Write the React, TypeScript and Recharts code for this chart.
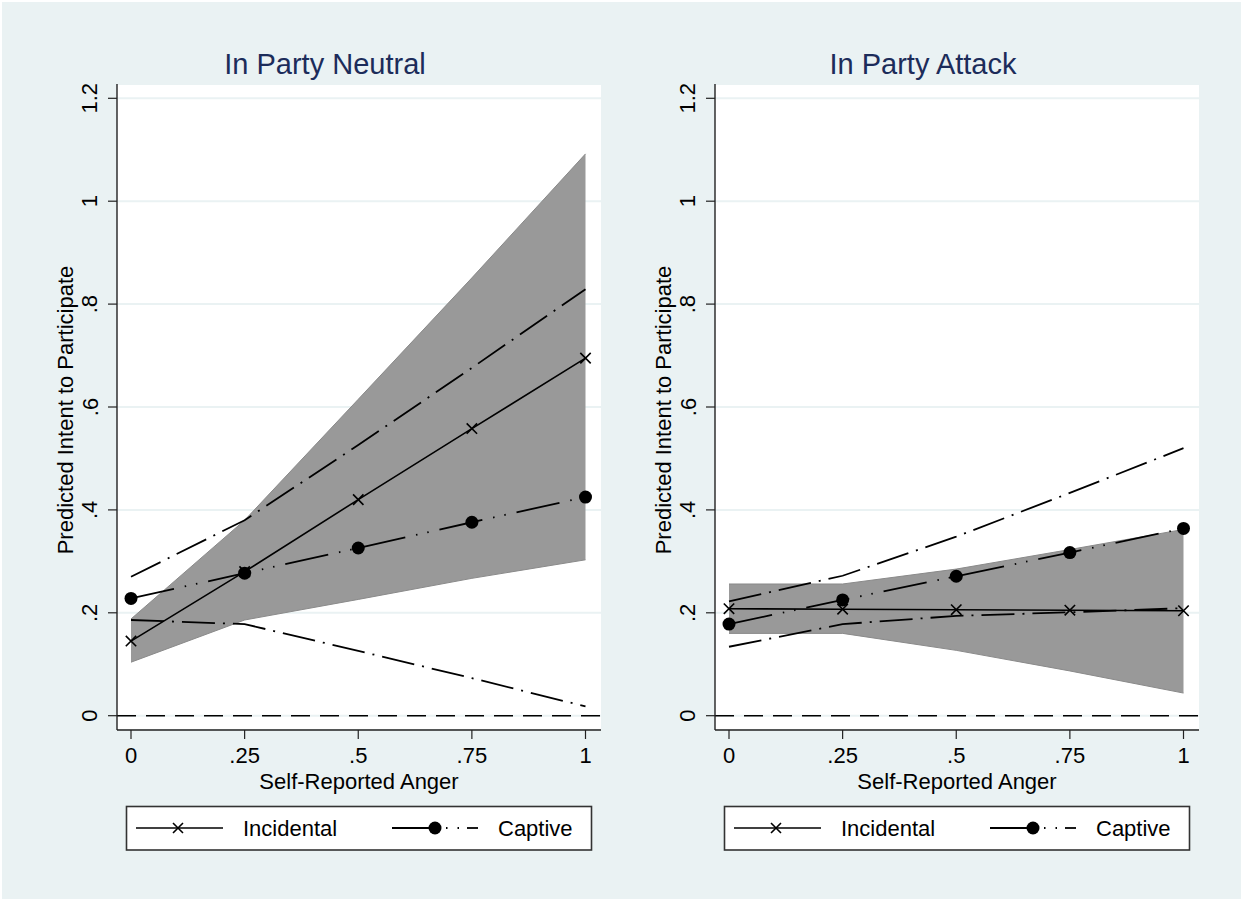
import {
  Area,
  CartesianGrid,
  ComposedChart,
  Line,
  ReferenceLine,
  XAxis,
  YAxis,
} from "recharts";

const anger = [0, 0.25, 0.5, 0.75, 1];
const yTicks = [0, 0.2, 0.4, 0.6, 0.8, 1, 1.2];

// In Party Neutral
const incNeutral = [0.145, 0.28, 0.42, 0.558, 0.695];
const incNeutralLo = [0.104, 0.186, 0.226, 0.267, 0.303];
const incNeutralHi = [0.188, 0.38, 0.615, 0.851, 1.092];
const capNeutral = [0.228, 0.277, 0.326, 0.376, 0.425];
const capNeutralLo = [0.186, 0.178, 0.126, 0.073, 0.018];
const capNeutralHi = [0.27, 0.38, 0.526, 0.676, 0.829];

// In Party Attack
const incAttack = [0.208, 0.207, 0.206, 0.205, 0.204];
const incAttackLo = [0.16, 0.16, 0.127, 0.087, 0.044];
const incAttackHi = [0.256, 0.256, 0.285, 0.323, 0.362];
const capAttack = [0.178, 0.225, 0.271, 0.317, 0.364];
const capAttackLo = [0.134, 0.178, 0.194, 0.201, 0.209];
const capAttackHi = [0.222, 0.272, 0.348, 0.433, 0.52];

const FONT = "'Liberation Sans', Arial, Helvetica, sans-serif";
const BG = "#EAF2F3";
const NAVY = "#1c2c5a";

const buildRows = (
  inc: number[],
  incLo: number[],
  incHi: number[],
  cap: number[],
  capLo: number[],
  capHi: number[]
) =>
  anger.map((a, i) => ({
    a,
    inc: inc[i],
    band: [incLo[i], incHi[i]],
    cap: cap[i],
    capLo: capLo[i],
    capHi: capHi[i],
  }));

const neutralRows = buildRows(incNeutral, incNeutralLo, incNeutralHi, capNeutral, capNeutralLo, capNeutralHi);
const attackRows = buildRows(incAttack, incAttackLo, incAttackHi, capAttack, capAttackLo, capAttackHi);

const fmt = (v: number) => {
  const s = String(Math.round(v * 100) / 100);
  return s.startsWith("0.") ? s.slice(1) : s;
};

const XMark = (p: any) => {
  const { cx, cy } = p;
  if (cx == null || cy == null) return null;
  const r = 5.2;
  return (
    <path
      key={`x-${cx}`}
      d={`M${cx - r},${cy - r}L${cx + r},${cy + r}M${cx - r},${cy + r}L${cx + r},${cy - r}`}
      stroke="#000"
      strokeWidth={1.6}
      fill="none"
    />
  );
};

const DotMark = (p: any) => {
  const { cx, cy } = p;
  if (cx == null || cy == null) return null;
  return <circle key={`o-${cx}`} cx={cx} cy={cy} r={6.5} fill="#000" />;
};

const XTick = (p: any) => (
  <text x={p.x} y={762.5} textAnchor="middle" fontFamily={FONT} fontSize={22} fill="#000">
    {fmt(p.payload.value)}
  </text>
);

const YTick = (p: any) => (
  <text
    x={97.5}
    y={p.y}
    textAnchor="middle"
    fontFamily={FONT}
    fontSize={22}
    fill="#000"
    transform={`rotate(-90, 97.5, ${p.y})`}
  >
    {fmt(p.payload.value)}
  </text>
);

const CI_DASH = "33 8 2 8";
const CAP_DASH = "44 11 1.5 10 1.5 11";

function Panel({ dx, rows }: { dx: number; rows: any[] }) {
  return (
    <div style={{ position: "absolute", left: dx, top: 0 }}>
      <ComposedChart
        width={620}
        height={899}
        data={rows}
        margin={{ top: 84, right: 19, left: 57, bottom: 109 }}
      >
        <CartesianGrid vertical={false} stroke={BG} strokeWidth={2} fill="#fff" />
        <XAxis
          type="number"
          dataKey="a"
          domain={[0, 1]}
          ticks={anger}
          interval={0}
          padding={{ left: 14, right: 15.5 }}
          height={60}
          tickSize={9}
          axisLine={{ stroke: "#222", strokeWidth: 1.4 }}
          tickLine={{ stroke: "#222", strokeWidth: 1.2 }}
          tick={XTick}
        />
        <YAxis
          type="number"
          domain={[0, 1.2]}
          ticks={yTicks}
          interval={0}
          padding={{ top: 14.3, bottom: 14.3 }}
          width={60}
          tickSize={9}
          axisLine={{ stroke: "#222", strokeWidth: 1.4 }}
          tickLine={{ stroke: "#222", strokeWidth: 1.2 }}
          tick={YTick}
        />
        <Area
          dataKey="band"
          type="linear"
          fill="#999999"
          fillOpacity={1}
          stroke="#8a8a8a"
          strokeWidth={1}
          isAnimationActive={false}
        />
        <ReferenceLine y={0} stroke="#000" strokeWidth={1.6} strokeDasharray="19 10" />
        <Line dataKey="capHi" type="linear" stroke="#000" strokeWidth={1.8} strokeDasharray={CI_DASH} dot={false} isAnimationActive={false} />
        <Line dataKey="capLo" type="linear" stroke="#000" strokeWidth={1.8} strokeDasharray={CI_DASH} dot={false} isAnimationActive={false} />
        <Line dataKey="inc" type="linear" stroke="#000" strokeWidth={1.6} dot={XMark} isAnimationActive={false} />
        <Line dataKey="cap" type="linear" stroke="#000" strokeWidth={1.8} strokeDasharray={CAP_DASH} dot={DotMark} isAnimationActive={false} />
      </ComposedChart>
    </div>
  );
}

function Decor({ dx, title }: { dx: number; title: string }) {
  const ly = 828;
  return (
    <g transform={`translate(${dx},0)`} fontFamily={FONT}>
      <text x={325} y={74} textAnchor="middle" fontSize={29} fill={NAVY}>
        {title}
      </text>
      <text
        x={73}
        y={410}
        textAnchor="middle"
        fontSize={22}
        fill="#000"
        transform="rotate(-90, 73, 410)"
      >
        Predicted Intent to Participate
      </text>
      <text x={359} y={789} textAnchor="middle" fontSize={22} fill="#000">
        Self-Reported Anger
      </text>
      <rect x={126.5} y={806.5} width={465} height={43.5} fill="#fff" stroke="#333" strokeWidth={1.6} />
      <line x1={136} y1={ly} x2={223} y2={ly} stroke="#000" strokeWidth={1.6} />
      <path d={`M173,${ly - 5}L183,${ly + 5}M173,${ly + 5}L183,${ly - 5}`} stroke="#000" strokeWidth={1.6} />
      <text x={243} y={ly + 8} fontSize={22} fill="#000">
        Incidental
      </text>
      <line x1={392} y1={ly} x2={435} y2={ly} stroke="#000" strokeWidth={1.8} />
      <circle cx={435} cy={ly} r={6.5} fill="#000" />
      <line x1={446} y1={ly} x2={447.5} y2={ly} stroke="#000" strokeWidth={1.8} />
      <line x1={457.5} y1={ly} x2={459} y2={ly} stroke="#000" strokeWidth={1.8} />
      <line x1={467} y1={ly} x2={478} y2={ly} stroke="#000" strokeWidth={1.8} />
      <text x={498} y={ly + 8} fontSize={22} fill="#000">
        Captive
      </text>
    </g>
  );
}

export default function App() {
  return (
    <div style={{ position: "absolute", left: 0, top: 0, width: 1243, height: 899, background: "#fff", overflow: "hidden" }}>
      <div style={{ position: "absolute", left: 2, top: 2, width: 1239, height: 897, background: BG }} />
      <Panel dx={0} rows={neutralRows} />
      <Panel dx={598} rows={attackRows} />
      <svg
        width={1243}
        height={899}
        style={{ position: "absolute", left: 0, top: 0, pointerEvents: "none" }}
      >
        <Decor dx={0} title="In Party Neutral" />
        <Decor dx={598} title="In Party Attack" />
      </svg>
    </div>
  );
}
